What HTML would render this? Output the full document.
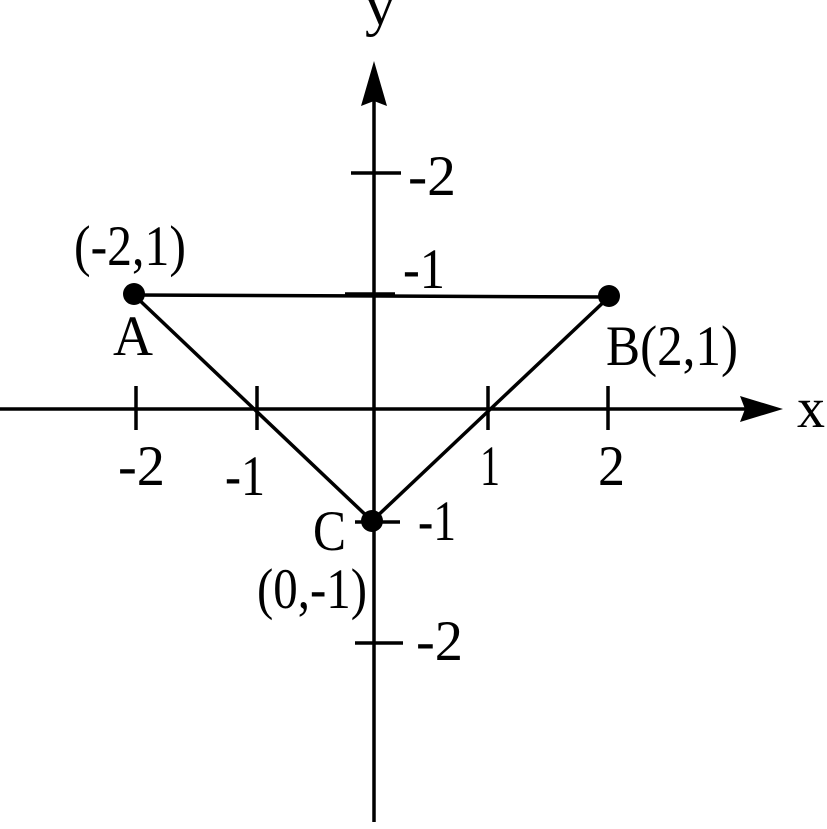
<!DOCTYPE html>
<html><head><style>html,body{margin:0;padding:0;background:#fff}</style></head>
<body>
<svg width="827" height="824" viewBox="0 0 827 824" xmlns="http://www.w3.org/2000/svg" fill="#000">
<g stroke="#000" stroke-width="3.5" fill="none">
<line x1="374" y1="95" x2="374" y2="822"/>
<line x1="0" y1="409" x2="752" y2="409"/>
<line x1="136" y1="386" x2="136" y2="430"/>
<line x1="257" y1="386" x2="257" y2="430"/>
<line x1="488" y1="386" x2="488" y2="430"/>
<line x1="608" y1="386" x2="608" y2="430"/>
<line x1="351" y1="173" x2="401" y2="173"/>
<line x1="345" y1="294" x2="395" y2="294"/>
<line x1="355" y1="522" x2="400" y2="522"/>
<line x1="355" y1="643" x2="403" y2="643"/>
<line x1="134" y1="295" x2="609" y2="297"/>
<line x1="134" y1="295" x2="372" y2="521"/>
<line x1="372" y1="521" x2="609" y2="297"/>
</g>
<path d="M374 61 L387 106 L374 101 L361 106 Z"/>
<path d="M783 409 L740 396 L745 409 L740 422 Z"/>
<circle cx="134" cy="294" r="11"/>
<circle cx="609" cy="296" r="11"/>
<circle cx="372" cy="521" r="11"/>
<g font-family="Liberation Serif" font-size="44">
<text transform="translate(365,25) scale(1,1.3)" textLength="30" lengthAdjust="spacingAndGlyphs">y</text>
<text transform="translate(797,427) scale(1,1.3)" textLength="28" lengthAdjust="spacingAndGlyphs">x</text>
<text transform="translate(408,195) scale(1,1.3)" textLength="48" lengthAdjust="spacingAndGlyphs">-2</text>
<text transform="translate(403,288) scale(1,1.3)" textLength="42" lengthAdjust="spacingAndGlyphs">-1</text>
<text transform="translate(74,265) scale(1,1.3)" textLength="112" lengthAdjust="spacingAndGlyphs">(-2,1)</text>
<text transform="translate(113,355) scale(1,1.3)" textLength="40" lengthAdjust="spacingAndGlyphs">A</text>
<text transform="translate(606,365) scale(1,1.3)" textLength="132" lengthAdjust="spacingAndGlyphs">B(2,1)</text>
<text transform="translate(118,485) scale(1,1.3)" textLength="47" lengthAdjust="spacingAndGlyphs">-2</text>
<text transform="translate(225,495) scale(1,1.3)" textLength="40" lengthAdjust="spacingAndGlyphs">-1</text>
<text transform="translate(480,485) scale(1,1.3)" textLength="20" lengthAdjust="spacingAndGlyphs">1</text>
<text transform="translate(598,485) scale(1,1.3)" textLength="27" lengthAdjust="spacingAndGlyphs">2</text>
<text transform="translate(313,550) scale(1,1.3)" textLength="33" lengthAdjust="spacingAndGlyphs">C</text>
<text transform="translate(418,540) scale(1,1.3)" textLength="38" lengthAdjust="spacingAndGlyphs">-1</text>
<text transform="translate(257,608) scale(1,1.3)" textLength="110" lengthAdjust="spacingAndGlyphs">(0,-1)</text>
<text transform="translate(416,660) scale(1,1.3)" textLength="47" lengthAdjust="spacingAndGlyphs">-2</text>
</g>
</svg>
</body></html>
